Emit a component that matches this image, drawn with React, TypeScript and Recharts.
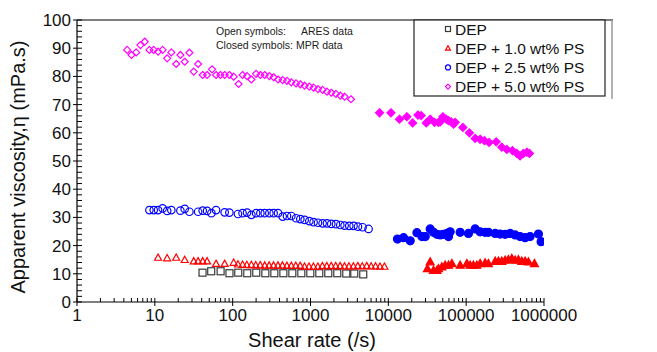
import React from 'react';
import { Scatter, ScatterChart, XAxis, YAxis } from 'recharts';

const FONT = '"Liberation Sans", Arial, sans-serif';

// DEP, ARES (open squares)
const depAresRate = [41, 53, 70, 91, 118, 154, 201, 263, 343, 448, 584, 762, 994, 1297, 1692, 2208, 2882, 3650, 4760];
const depAresVisc = [10.4, 10.9, 10.9, 10.2, 10.4, 10.2, 10.4, 10.2, 10.2, 10.2, 10.2, 10.2, 10.2, 10.2, 10.2, 10.2, 10.1, 10.1, 9.8];

// DEP + 1.0 wt% PS
const ps10AresRate = [11.0, 14.4, 18.8, 24.2, 31.6, 36.0, 41.2, 46.9, 61.2, 78.9, 103, 117, 134, 152, 174, 198, 226, 258, 294, 335, 382, 436, 497, 566, 646, 736, 839, 957, 1091, 1245, 1419, 1618, 1845, 2104, 2399, 2735, 3119, 3556, 4055, 4624, 5272, 6012, 6855, 7816, 8913];
const ps10AresVisc = [15.8, 15.6, 15.8, 15.0, 14.5, 14.5, 14.5, 14.5, 13.6, 13.6, 14.0, 13.4, 13.3, 13.2, 13.2, 13.1, 13.1, 13.0, 13.0, 13.0, 13.0, 13.0, 12.9, 12.9, 12.9, 12.9, 12.6, 12.6, 12.6, 12.6, 12.8, 12.8, 12.8, 12.8, 12.8, 12.7, 12.7, 12.7, 12.8, 12.7, 12.8, 12.7, 12.7, 12.6, 12.6];
const ps10MprRate = [31800, 34500, 38000, 42100, 44100, 48700, 53700, 59300, 65500, 83700, 102000, 112500, 124000, 137000, 151000, 175000, 193000, 236000, 260000, 287000, 317000, 349000, 386000, 426000, 469000, 519000, 572000, 631000, 753000];
const ps10MprVisc = [11.9, 14.3, 11.3, 11.3, 11.9, 12.5, 13.1, 13.1, 13.7, 13.1, 13.7, 13.1, 13.1, 13.1, 13.7, 13.9, 13.7, 14.5, 14.5, 14.5, 14.9, 15.1, 15.5, 14.9, 15.1, 14.5, 14.5, 14.3, 13.7];

// DEP + 2.5 wt% PS
const ps25AresRate = [8.52, 9.68, 11.0, 12.6, 14.4, 16.3, 21.3, 24.2, 27.8, 36.0, 41.2, 46.9, 53.3, 61.2, 78.9, 90.7, 117, 134, 153, 174, 200, 227, 258, 296, 336, 383, 439, 499, 567, 652, 740, 841, 966, 1096, 1248, 1430, 1629, 1849, 2125, 2415, 2742, 3148, 3573, 4074, 4667, 5572];
const ps25AresVisc = [32.6, 32.6, 32.6, 33.2, 32.3, 32.6, 32.4, 33.0, 32.0, 32.0, 32.4, 32.3, 31.5, 32.6, 31.8, 31.7, 31.2, 31.5, 31.7, 30.9, 31.5, 31.5, 31.5, 31.5, 31.5, 31.5, 30.3, 30.5, 30.5, 29.7, 29.4, 29.1, 28.7, 28.3, 28.1, 27.9, 27.9, 27.7, 27.6, 27.3, 27.1, 27.0, 27.0, 26.7, 26.5, 25.9];
const ps25MprRate = [13100, 15700, 19100, 23300, 27000, 29800, 34500, 38000, 42100, 46400, 51100, 56500, 59300, 62300, 83700, 107000, 130500, 151000, 175000, 193000, 236000, 273000, 317000, 367000, 426000, 493000, 572000, 663000, 848000, 918000];
const ps25MprVisc = [22.3, 22.8, 21.7, 24.6, 23.2, 23.2, 25.9, 24.7, 24.0, 23.8, 24.0, 24.3, 23.2, 24.9, 24.7, 24.3, 25.9, 24.9, 24.7, 24.7, 24.3, 24.1, 24.0, 24.3, 23.8, 23.2, 22.8, 23.2, 24.1, 21.4];

// DEP + 5.0 wt% PS
const ps50AresRate = [4.41, 5.01, 5.76, 6.53, 7.42, 8.52, 9.68, 11.0, 12.6, 14.4, 16.3, 18.8, 21.3, 24.2, 27.8, 31.6, 36.0, 41.2, 46.9, 54.4, 61.2, 69.5, 78.9, 90.7, 103, 119, 134, 153, 174, 200, 227, 258, 296, 336, 383, 439, 499, 567, 652, 740, 841, 966, 1096, 1248, 1430, 1629, 1849, 2125, 2415, 2742, 3311];
const ps50AresVisc = [89.4, 87.6, 88.5, 91.1, 92.3, 89.4, 89.4, 88.8, 89.4, 86.4, 88.5, 84.4, 87.6, 85.2, 88.4, 81.7, 84.4, 80.5, 80.5, 82.5, 80.5, 80.5, 80.5, 80.5, 79.9, 77.3, 80.5, 80.1, 78.9, 80.9, 80.5, 80.5, 80.1, 79.7, 78.9, 78.7, 78.4, 77.9, 77.5, 77.2, 76.7, 76.4, 76.0, 75.5, 75.2, 74.6, 74.2, 73.8, 73.2, 72.8, 71.9];
const ps50MprRate = [7710, 10800, 13900, 17300, 20500, 24000, 26400, 30700, 34500, 39200, 44100, 46400, 50200, 55400, 59300, 64200, 68800, 72300, 90800, 110000, 130500, 151000, 172000, 197000, 243000, 287000, 333000, 393000, 448000, 493000, 544000, 601000, 650000];
const ps50MprVisc = [67.1, 67.1, 64.8, 65.7, 63.5, 66.3, 66.1, 63.5, 64.8, 63.7, 63.7, 63.9, 65.7, 64.8, 64.3, 63.9, 63.1, 63.7, 61.9, 60.0, 58.0, 57.7, 57.2, 56.6, 56.8, 54.9, 54.1, 53.7, 52.7, 51.8, 52.7, 53.1, 52.7];

const legendNames = ['DEP', 'DEP + 1.0 wt% PS', 'DEP + 2.5 wt% PS', 'DEP + 5.0 wt% PS'];
const colors = ['#3a3a3a', '#ff0000', '#0000ff', '#ff00ff'];
const kinds = ['square', 'triangle', 'circle', 'diamond'];

const xMajorTicks = [1, 10, 100, 1000, 10000, 100000, 1000000];
const xMinorSteps = [2, 3, 4, 5, 6, 7, 8, 9];
const yMajorTicks = [0, 10, 20, 30, 40, 50, 60, 70, 80, 90, 100];
const yMinorSteps = [2, 4, 6, 8];

const xTicks = [
  ...xMajorTicks,
  ...xMajorTicks.slice(0, -1).flatMap((d) => xMinorSteps.map((m) => m * d)),
].sort((a, b) => a - b);
const yTicks = [
  ...yMajorTicks,
  ...yMajorTicks.slice(0, -1).flatMap((d) => yMinorSteps.map((m) => d + m)),
].sort((a, b) => a - b);

const zip = (xs: number[], ys: number[]) => xs.map((x, i) => ({ x, y: ys[i] }));

const drawMarker = (kind: string, color: string, filled: boolean, s: number, cx: number, cy: number) => {
  const fill = filled ? color : 'none';
  const sw = 1.2;
  const h = s / 2;
  if (kind === 'square') {
    return <rect x={cx - h} y={cy - h} width={s} height={s} fill={fill} stroke={color} strokeWidth={sw} />;
  }
  if (kind === 'triangle') {
    return (
      <polygon
        points={`${cx},${cy - h} ${cx + h},${cy + h * 0.8} ${cx - h},${cy + h * 0.8}`}
        fill={fill}
        stroke={color}
        strokeWidth={sw}
      />
    );
  }
  if (kind === 'circle') {
    return <circle cx={cx} cy={cy} r={h} fill={fill} stroke={color} strokeWidth={sw} />;
  }
  return (
    <polygon
      points={`${cx},${cy - h} ${cx + h},${cy} ${cx},${cy + h} ${cx - h},${cy}`}
      fill={fill}
      stroke={color}
      strokeWidth={sw}
    />
  );
};

const shapeFor = (idx: number, filled: boolean, size: number) => (props: any) =>
  <g>{drawMarker(kinds[idx], colors[idx], filled, size, props.cx, props.cy)}</g>;

const XTick = (props: any) => {
  const { x, y, payload } = props;
  const major = xMajorTicks.includes(payload.value);
  return (
    <g>
      <line x1={x} x2={x} y1={y - 4} y2={major ? y + 4 : y} stroke="#000" strokeWidth={1} />
      {major && (
        <text x={x} y={y + 19} textAnchor="middle" fontSize={17} fontFamily={FONT} fill="#111">
          {payload.value}
        </text>
      )}
    </g>
  );
};

const YTick = (props: any) => {
  const { x, y, payload } = props;
  const major = yMajorTicks.includes(payload.value);
  return (
    <g>
      <line x1={major ? x - 4 : x} x2={x + 5} y1={y} y2={y} stroke="#000" strokeWidth={1} />
      {major && (
        <text x={x - 6} y={y} dy="0.35em" textAnchor="end" fontSize={17} fontFamily={FONT} fill="#111">
          {payload.value}
        </text>
      )}
    </g>
  );
};

const App: React.FC = () => {
  return (
    <div style={{ position: 'absolute', left: 0, top: 0, width: 657, height: 352, background: '#fff' }}>
      <ScatterChart width={657} height={352} margin={{ top: 20, right: 113, bottom: 0, left: 0 }}>
        <XAxis
          dataKey="x"
          type="number"
          scale="log"
          domain={[1, 1000000]}
          ticks={xTicks}
          interval={0}
          height={50}
          tickSize={0}
          tickMargin={0}
          tickLine={false}
          tick={XTick}
          axisLine={{ stroke: '#000', strokeWidth: 1.2 }}
          allowDataOverflow
        />
        <YAxis
          dataKey="y"
          type="number"
          domain={[0, 100]}
          ticks={yTicks}
          interval={0}
          width={77}
          tickSize={0}
          tickMargin={0}
          tickLine={false}
          tick={YTick}
          axisLine={{ stroke: '#000', strokeWidth: 1.2 }}
          allowDataOverflow
        />
        <Scatter data={zip(depAresRate, depAresVisc)} shape={shapeFor(0, false, 7)} isAnimationActive={false} />
        <Scatter data={zip(ps10AresRate, ps10AresVisc)} shape={shapeFor(1, false, 7)} isAnimationActive={false} />
        <Scatter data={zip(ps10MprRate, ps10MprVisc)} shape={shapeFor(1, true, 8)} isAnimationActive={false} />
        <Scatter data={zip(ps25AresRate, ps25AresVisc)} shape={shapeFor(2, false, 7.5)} isAnimationActive={false} />
        <Scatter data={zip(ps25MprRate, ps25MprVisc)} shape={shapeFor(2, true, 8)} isAnimationActive={false} />
        <Scatter data={zip(ps50AresRate, ps50AresVisc)} shape={shapeFor(3, false, 7)} isAnimationActive={false} />
        <Scatter data={zip(ps50MprRate, ps50MprVisc)} shape={shapeFor(3, true, 8)} isAnimationActive={false} />
      </ScatterChart>

      <svg
        width={657}
        height={352}
        style={{ position: 'absolute', left: 0, top: 0, pointerEvents: 'none' }}
        fontFamily={FONT}
      >
        {/* top frame line */}
        <line x1={77} x2={613} y1={20} y2={20} stroke="#000" strokeWidth={1.2} />

        {/* legend */}
        <line x1={612} x2={612} y1={20} y2={99} stroke="#999" strokeWidth={1.5} />
        <rect x={414} y={20} width={191} height={76} fill="#fff" stroke="#222" strokeWidth={1.2} />
        {legendNames.map((name, i) => {
          const cy = 29 + i * 19.2;
          return (
            <g key={name}>
              {drawMarker(kinds[i], colors[i], false, 5, 448, cy)}
              <text x={455} y={cy + 5.5} fontSize={15.5} fill="#111">
                {name}
              </text>
            </g>
          );
        })}

        {/* annotation */}
        <text fontSize={10.5} fill="#222">
          <tspan x={216} y={35}>Open symbols:</tspan>
          <tspan x={301} y={35}>ARES data</tspan>
          <tspan x={216} y={49}>Closed symbols: MPR data</tspan>
        </text>

        {/* axis titles */}
        <text x={312} y={347} textAnchor="middle" fontSize={20} fill="#111">
          Shear rate (/s)
        </text>
        <text transform="translate(18,167) rotate(-90)" textAnchor="middle" dy="0.35em" fontSize={20} fill="#111">
          Apparent viscosity,η (mPa.s)
        </text>
      </svg>
    </div>
  );
};

export default App;
